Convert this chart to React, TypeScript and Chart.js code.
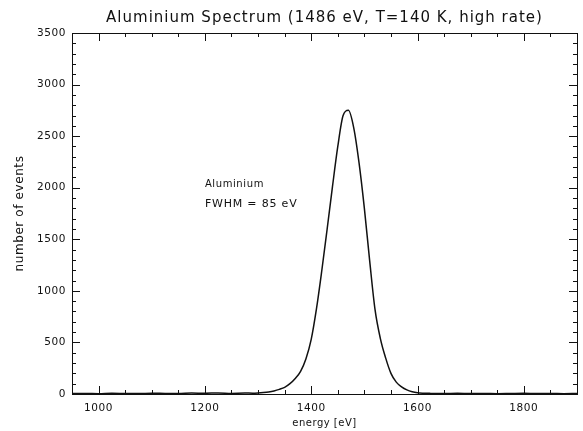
import React, { useEffect, useRef } from "react";
import { Chart, registerables } from "chart.js";

Chart.register(...registerables);

const titleText = "Aluminium Spectrum (1486 eV, T=140 K, high rate)";
const xAxisTitle = "energy [eV]";
const yAxisTitle = "number of events";
const annotationLines = ["Aluminium", "FWHM = 85 eV"];
const annotationAt = [1200, 2030];

const energies = [
  950, 975, 1000, 1025, 1050, 1075, 1100, 1125, 1150, 1175, 1200, 1225, 1250, 1275, 1290,
  1300, 1310, 1320, 1330, 1340, 1350, 1360, 1370, 1380, 1390, 1400, 1410, 1420, 1430, 1440,
  1450, 1460, 1470, 1480, 1490, 1500, 1510, 1520, 1530, 1540, 1550, 1560, 1570, 1580, 1590,
  1600, 1610, 1625, 1650, 1675, 1700, 1725, 1750, 1775, 1800, 1825, 1850, 1875, 1900,
];
const counts = [
  4, 6, 3, 7, 5, 4, 8, 6, 5, 9, 7, 10, 6, 9, 8,
  10, 14, 20, 30, 45, 65, 100, 150, 220, 340, 530, 830, 1200, 1600, 2010,
  2400, 2700, 2750, 2580, 2240, 1800, 1290, 820, 540, 350, 200, 115, 70, 40, 22,
  12, 8, 6, 5, 7, 4, 6, 3, 5, 7, 4, 6, 3, 5,
];

const xRange = [950, 1900];
const yRange = [0, 3500];
const xMajorStep = 200;
const xMinorStep = 50;
const yMajorStep = 500;
const yMinorStep = 100;

const FONT = "'DejaVu Sans', sans-serif";

const framePlugin = {
  id: "framePlugin",
  beforeDraw(chart: any) {
    chart.ctx.letterSpacing = "0.6px";
  },
  afterDraw(chart: any) {
    const { ctx, chartArea } = chart;
    const xs = chart.scales.x;
    const ys = chart.scales.y;
    const { left, right, top, bottom } = chartArea;
    ctx.save();
    ctx.strokeStyle = "#111";
    ctx.lineWidth = 1;
    ctx.strokeRect(left + 0.5, top + 0.5, right - left, bottom - top);
    ctx.beginPath();
    for (let v = xRange[0]; v <= xRange[1]; v += xMinorStep) {
      const px = Math.round(xs.getPixelForValue(v)) + 0.5;
      const len = v % xMajorStep === 0 ? 8 : 4;
      ctx.moveTo(px, bottom);
      ctx.lineTo(px, bottom - len);
      ctx.moveTo(px, top);
      ctx.lineTo(px, top + len);
    }
    for (let v = yRange[0]; v <= yRange[1]; v += yMinorStep) {
      const py = Math.round(ys.getPixelForValue(v)) + 0.5;
      const len = v % yMajorStep === 0 ? 8 : 4;
      ctx.moveTo(left, py);
      ctx.lineTo(left + len, py);
      ctx.moveTo(right, py);
      ctx.lineTo(right - len, py);
    }
    ctx.stroke();

    ctx.fillStyle = "#111";
    ctx.letterSpacing = "1px";
    ctx.font = `15px ${FONT}`;
    ctx.textAlign = "center";
    ctx.textBaseline = "middle";
    ctx.fillText(titleText, (left + right) / 2, 18);

    ctx.letterSpacing = "0.5px";
    ctx.font = `10px ${FONT}`;
    ctx.fillText(xAxisTitle, (left + right) / 2, 423);
    ctx.save();
    ctx.translate(20, (top + bottom) / 2);
    ctx.rotate(-Math.PI / 2);
    ctx.letterSpacing = "0.6px";
    ctx.font = `12px ${FONT}`;
    ctx.fillText(yAxisTitle, 0, 0);
    ctx.restore();

    ctx.textAlign = "left";
    ctx.letterSpacing = "0.6px";
    ctx.font = `10px ${FONT}`;
    const ax = xs.getPixelForValue(annotationAt[0]);
    const ay = ys.getPixelForValue(annotationAt[1]);
    ctx.fillText(annotationLines[0], ax, ay);
    ctx.letterSpacing = "0.8px";
    ctx.font = `11px ${FONT}`;
    ctx.fillText(annotationLines[1], ax, ay + 20);
    ctx.restore();
  },
};

export default function App() {
  const ref = useRef<HTMLCanvasElement>(null);
  useEffect(() => {
    document.body.style.margin = "0";
    const chart = new Chart(ref.current as HTMLCanvasElement, {
      type: "line",
      data: {
        datasets: [
          {
            data: energies.map((e, i) => ({ x: e, y: counts[i] })),
            borderColor: "#111",
            borderWidth: 1.5,
            pointRadius: 0,
            cubicInterpolationMode: "monotone",
            fill: false,
          },
        ],
      },
      options: {
        animation: false,
        responsive: false,
        maintainAspectRatio: false,
        layout: { padding: { top: 33, right: 6, left: 0, bottom: 0 } },
        plugins: { legend: { display: false }, tooltip: { enabled: false }, title: { display: false } },
        scales: {
          x: {
            type: "linear",
            min: xRange[0],
            max: xRange[1],
            grid: { display: false, drawTicks: false },
            border: { display: false },
            ticks: {
              stepSize: xMajorStep,
              includeBounds: false,
              color: "#111",
              font: { family: FONT, size: 10.5 },
              padding: 8,
              maxRotation: 0,
              callback: (v: any) => String(v),
            },
            afterFit(scale: any) {
              scale.height = 37;
            },
          },
          y: {
            type: "linear",
            min: yRange[0],
            max: yRange[1],
            grid: { display: false, drawTicks: false },
            border: { display: false },
            ticks: {
              stepSize: yMajorStep,
              color: "#111",
              font: { family: FONT, size: 10.5 },
              padding: 6,
              callback: (v: any) => String(v),
            },
            afterFit(scale: any) {
              scale.width = 72;
            },
          },
        },
      },
      plugins: [framePlugin],
    });
    return () => chart.destroy();
  }, []);
  return (
    <div style={{ position: "absolute", left: 0, top: 0, width: 583, height: 431, background: "#fff" }}>
      <canvas ref={ref} width={583} height={431} style={{ width: 583, height: 431 }} />
    </div>
  );
}
